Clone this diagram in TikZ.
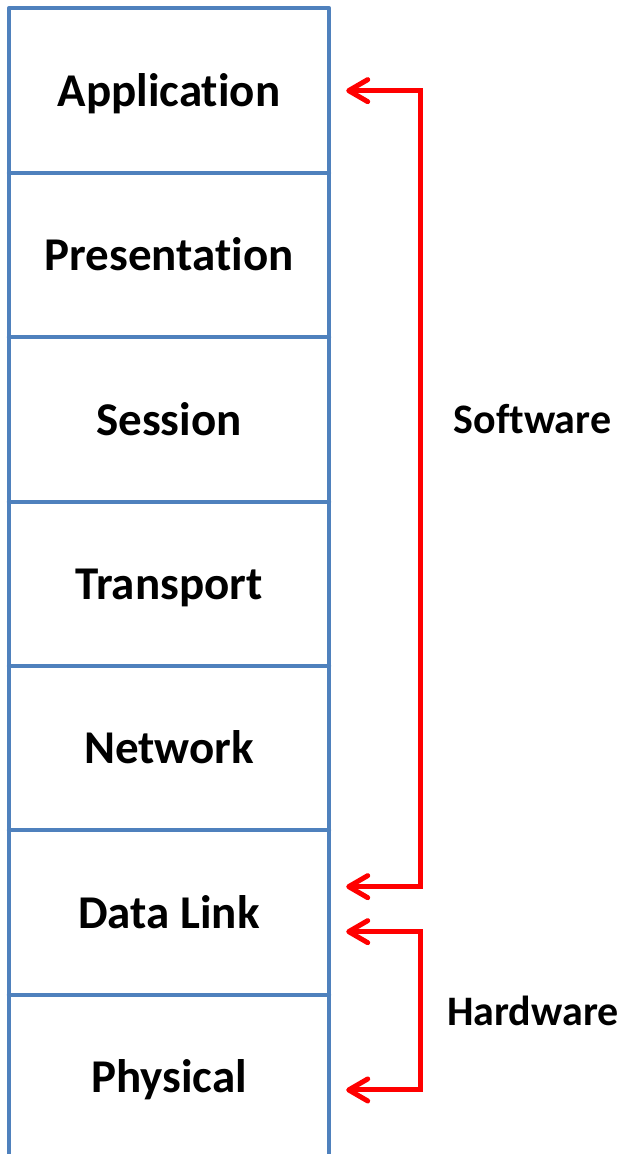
\documentclass[tikz,border=0pt]{standalone}
\usepackage{fontspec}
\setmainfont[Ligatures=NoCommon]{Carlito}
\usetikzlibrary{arrows.meta}
\definecolor{layerblue}{HTML}{4F81BD}
\definecolor{brackred}{HTML}{FF0000}
\tikzset{
  layer/.style={rectangle, inner sep=0pt, minimum width=320pt, minimum height=164.3pt,
    font=\fontsize{47}{56}\selectfont\bfseries, text height=32pt, text depth=0pt},
  frame/.style={draw=layerblue, line width=4pt, line join=round, line cap=round},
  bracket/.style={draw=brackred, line width=5pt, line join=miter,
    {Straight Barb[length=19pt,width=22pt,round]}-{Straight Barb[length=19pt,width=22pt,round]}},
  sidelabel/.style={font=\fontsize{42}{50}\selectfont\bfseries, text height=27pt, text depth=0pt, inner sep=0pt}
}
\begin{document}
\begin{tikzpicture}[x=1pt, y=-1pt]
  \useasboundingbox (0,0) rectangle (623,1154);

  % the seven OSI layers, top to bottom
  \foreach \name/\txt [count=\i from 0] in {app/Application, pre/Presentation, ses/Session,
      tra/Transport, net/Network, dl/Data Link, phy/Physical}
    \node[layer] (\name) at (169, 8.5+164.3*\i+82.15) {\txt};

  % outer frame, open at the bottom
  \draw[frame] (phy.south west) -- (app.north west) -- (app.north east) -- (phy.south east);

  % dividers between layers
  \foreach \n in {app, pre, ses, tra, net, dl}
    \draw[frame] (\n.south west) -- (\n.south east);

  % software span: application down to data link
  \draw[bracket] ([xshift=17pt]app.east) -| ([xshift=91pt,yshift=25.5pt]dl.east)
    -- ([xshift=17pt,yshift=25.5pt]dl.east);
  \node[sidelabel] (sw) at (532.5, 420) {Software};

  % hardware span: data link down to physical
  \draw[bracket] ([xshift=17pt,yshift=-19.5pt]dl.east) -| ([xshift=91pt,yshift=-13.5pt]phy.east)
    -- ([xshift=17pt,yshift=-13.5pt]phy.east);
  \node[sidelabel] (hw) at (533, 1012) {Hardware};
\end{tikzpicture}
\end{document}
